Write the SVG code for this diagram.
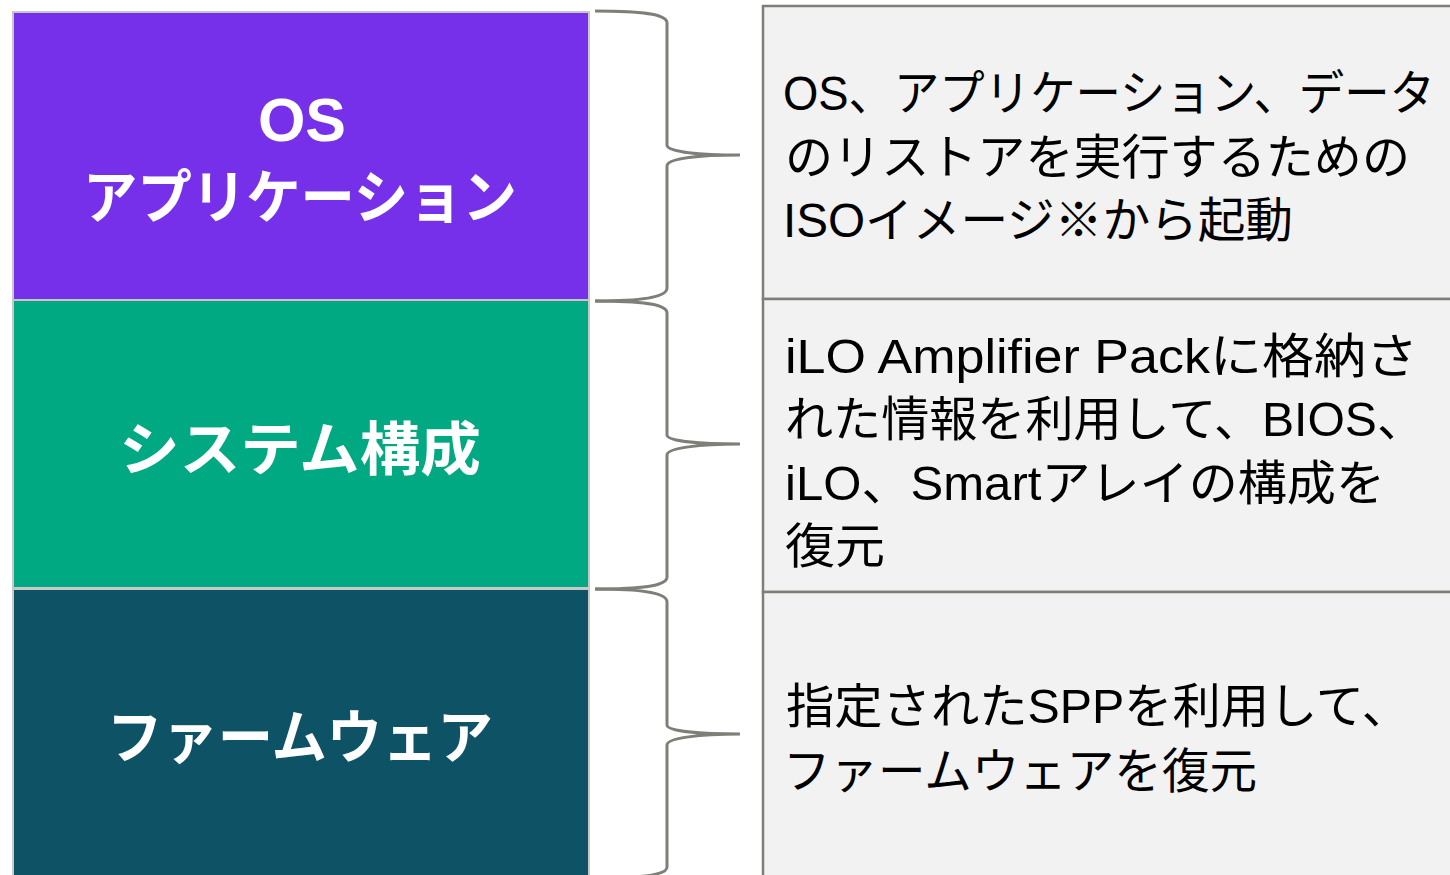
<svg xmlns="http://www.w3.org/2000/svg" width="1450" height="875" viewBox="0 0 1450 875">
<style>
.layer{stroke:#c8c8c8;stroke-width:2}
.desc{fill:#f2f2f2;stroke:#7f7f78;stroke-width:2.5}
.lt{font-family:"Liberation Sans","Noto Sans CJK JP",sans-serif;font-weight:bold;font-size:58px;fill:#ffffff;text-anchor:middle}
.rt{font-family:"Liberation Sans","Noto Sans CJK JP",sans-serif;font-size:48px;fill:#000000}
.brace{fill:none;stroke:#7f7f78;stroke-width:3}
</style>
<rect x="0" y="0" width="1450" height="875" fill="#ffffff"/>
<g id="layer-os">
<rect class="layer" x="13" y="12" width="576" height="288" fill="#7630ea"/>
<text class="lt" x="302" y="141" style="font-size:61px">OS</text>
<text class="lt" x="300" y="218" textLength="434" lengthAdjust="spacingAndGlyphs">アプリケーション</text>
</g>
<g id="layer-config">
<rect class="layer" x="13" y="300" width="576" height="288" fill="#01a982"/>
<text class="lt" x="300" y="470" textLength="362" lengthAdjust="spacingAndGlyphs">システム構成</text>
</g>
<g id="layer-fw">
<rect class="layer" x="13" y="589" width="576" height="300" fill="#0e5265"/>
<text class="lt" x="300" y="758" textLength="386" lengthAdjust="spacingAndGlyphs">ファームウェア</text>
</g>
<g id="desc-os">
<rect class="desc" x="763" y="6" width="700" height="293"/>
<text class="rt" x="783" y="110" textLength="652" lengthAdjust="spacingAndGlyphs">OS、アプリケーション、データ</text>
<text class="rt" x="785" y="174" textLength="625" lengthAdjust="spacingAndGlyphs">のリストアを実行するための</text>
<text class="rt" x="783" y="237" textLength="510" lengthAdjust="spacingAndGlyphs">ISOイメージ※から起動</text>
</g>
<g id="desc-config">
<rect class="desc" x="763" y="299" width="700" height="293"/>
<text class="rt" x="785" y="373" textLength="633" lengthAdjust="spacingAndGlyphs">iLO Amplifier Packに格納さ</text>
<text class="rt" x="785" y="436" textLength="640" lengthAdjust="spacingAndGlyphs">れた情報を利用して、BIOS、</text>
<text class="rt" x="785" y="500" textLength="600" lengthAdjust="spacingAndGlyphs">iLO、Smartアレイの構成を</text>
<text class="rt" x="785" y="563" textLength="100" lengthAdjust="spacingAndGlyphs">復元</text>
</g>
<g id="desc-fw">
<rect class="desc" x="763" y="592" width="700" height="300"/>
<text class="rt" x="786" y="723" textLength="624" lengthAdjust="spacingAndGlyphs">指定されたSPPを利用して、</text>
<text class="rt" x="783" y="788" textLength="474" lengthAdjust="spacingAndGlyphs">ファームウェアを復元</text>
</g>
<g id="connectors">
<path class="brace" d="M595,11 C648,11 667,15 667,23 L667,145 C667,152 700,155 740,155 C700,155 667,158 667,166 L667,288 C667,296 648,301 595,301"/>
<path class="brace" d="M595,301 C648,301 667,305 667,313 L667,435 C667,441 700,444 740,444 C700,444 667,448 667,455 L667,577 C667,585 648,589 595,589"/>
<path class="brace" d="M595,589 C648,589 667,594 667,602 L667,725 C667,731 700,734 740,734 C700,734 667,738 667,745 L667,867 C667,874 648,878 595,878"/>
</g>
</svg>
